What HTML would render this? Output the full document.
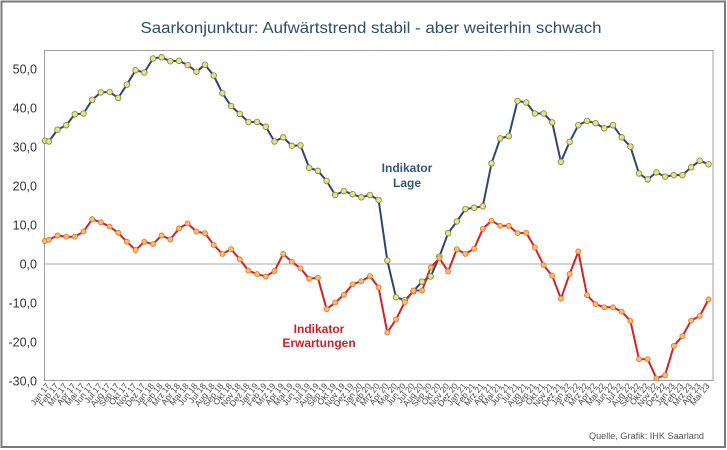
<!DOCTYPE html>
<html>
<head>
<meta charset="utf-8">
<style>
html,body{margin:0;padding:0;background:#fff;}
svg{display:block;}
</style>
</head>
<body>
<svg width="727" height="450" viewBox="0 0 727 450" xmlns="http://www.w3.org/2000/svg" font-family="Liberation Sans, Arial, sans-serif">
<rect x="0" y="0" width="727" height="450" fill="#fff"/>
<rect x="1.5" y="1.5" width="723.5" height="445.5" fill="none" stroke="#7a7a7a" stroke-width="2"/>
<text x="371" y="33" text-anchor="middle" font-size="16" fill="#2f4d6e" textLength="461" lengthAdjust="spacingAndGlyphs">Saarkonjunktur: Aufwärtstrend stabil - aber weiterhin schwach</text>
<rect x="44.5" y="50.5" width="668.5" height="330" fill="none" stroke="#a0a0a0" stroke-width="1"/>
<line x1="44.5" y1="264" x2="713" y2="264" stroke="#a8a8a8" stroke-width="1"/>
<g font-size="12.5" fill="#333" text-anchor="end">
<text x="37" y="73.5">50,0</text>
<text x="37" y="112.5">40,0</text>
<text x="37" y="151.5">30,0</text>
<text x="37" y="190.5">20,0</text>
<text x="37" y="229.5">10,0</text>
<text x="37" y="268.5">0,0</text>
<text x="37" y="307.5">-10,0</text>
<text x="37" y="346.5">-20,0</text>
<text x="37" y="385.5">-30,0</text>
</g>
<polyline fill="none" stroke="#2c4770" stroke-width="2" stroke-linejoin="round" points="45,140.7 48.8,141.5 57.5,129.8 66.2,125.2 74.8,114.2 83.5,113.5 92.2,99.8 100.9,92.4 109.6,92.0 118.2,97.9 126.9,84.6 135.6,70.2 144.3,72.5 153.0,58.5 161.6,57.3 170.3,61.2 179.0,60.8 187.7,65.1 196.4,71.7 205.0,64.7 213.7,75.6 222.4,93.2 231.1,106.1 239.8,113.9 248.4,122.0 257.1,122.0 265.8,126.7 274.5,141.5 283.2,137.3 291.8,145.8 300.5,145.4 309.2,167.7 317.9,170.8 326.6,180.9 335.2,195.0 343.9,191.1 352.6,194.2 361.3,197.3 370.0,195.0 378.6,200.0 387.3,260.5 396.0,297.2 404.7,300.3 413.4,291.3 422.0,281.6 430.7,276.5 439.4,256.6 448.1,233.2 456.8,221.5 465.4,209.0 474.1,207.8 482.8,206.3 491.5,163.4 500.2,138.4 508.8,136.1 517.5,101.0 526.2,102.5 534.9,113.5 543.6,113.5 552.2,122.4 560.9,161.8 569.6,141.9 578.3,125.2 587.0,120.9 595.6,123.2 604.3,128.3 613.0,125.2 621.7,137.3 630.4,146.6 639.0,173.5 647.7,179.4 656.4,172.4 665.1,176.6 673.8,175.1 682.4,175.1 691.1,167.3 699.8,160.7 708.5,164.2"/>
<polyline fill="none" stroke="#d42222" stroke-width="2" stroke-linejoin="round" points="45,241 48.8,239.8 57.5,235.5 66.2,236.7 74.8,236.7 83.5,231.6 92.2,219.2 100.9,222.3 109.6,226.6 118.2,232.8 126.9,241.8 135.6,250.0 144.3,241.8 153.0,244.1 161.6,235.5 170.3,239.4 179.0,228.5 187.7,223.4 196.4,231.6 205.0,233.2 213.7,244.9 222.4,253.9 231.1,249.2 239.8,259.3 248.4,270.6 257.1,274.1 265.8,276.5 274.5,271.0 283.2,253.9 291.8,261.7 300.5,268.3 309.2,278.8 317.9,277.7 326.6,309.2 335.2,302.6 343.9,294.8 352.6,284.3 361.3,281.2 370.0,276.1 378.6,287.4 387.3,332.6 396.0,319.4 404.7,302.2 413.4,290.5 422.0,290.5 430.7,267.5 439.4,258.2 448.1,271.4 456.8,249.2 465.4,253.9 474.1,248.8 482.8,228.9 491.5,220.7 500.2,225.8 508.8,225.8 517.5,233.2 526.2,232.8 534.9,247.6 543.6,265.2 552.2,275.7 560.9,298.7 569.6,274.1 578.3,251.5 587.0,295.2 595.6,304.2 604.3,307.3 613.0,307.3 621.7,311.6 630.4,320.9 639.0,359.2 647.7,359.2 656.4,378.3 665.1,375.2 673.8,345.9 682.4,336.2 691.1,320.6 699.8,315.9 708.5,299.5"/>
<g fill="#e4e48a" stroke="#8c8c48" stroke-width="0.9">
<circle cx="45" cy="140.7" r="2.8"/><circle cx="48.8" cy="141.5" r="2.8"/><circle cx="57.5" cy="129.8" r="2.8"/><circle cx="66.2" cy="125.2" r="2.8"/><circle cx="74.8" cy="114.2" r="2.8"/><circle cx="83.5" cy="113.5" r="2.8"/><circle cx="92.2" cy="99.8" r="2.8"/><circle cx="100.9" cy="92.4" r="2.8"/><circle cx="109.6" cy="92.0" r="2.8"/><circle cx="118.2" cy="97.9" r="2.8"/><circle cx="126.9" cy="84.6" r="2.8"/><circle cx="135.6" cy="70.2" r="2.8"/><circle cx="144.3" cy="72.5" r="2.8"/><circle cx="153.0" cy="58.5" r="2.8"/><circle cx="161.6" cy="57.3" r="2.8"/><circle cx="170.3" cy="61.2" r="2.8"/><circle cx="179.0" cy="60.8" r="2.8"/><circle cx="187.7" cy="65.1" r="2.8"/><circle cx="196.4" cy="71.7" r="2.8"/><circle cx="205.0" cy="64.7" r="2.8"/><circle cx="213.7" cy="75.6" r="2.8"/><circle cx="222.4" cy="93.2" r="2.8"/><circle cx="231.1" cy="106.1" r="2.8"/><circle cx="239.8" cy="113.9" r="2.8"/><circle cx="248.4" cy="122.0" r="2.8"/><circle cx="257.1" cy="122.0" r="2.8"/><circle cx="265.8" cy="126.7" r="2.8"/><circle cx="274.5" cy="141.5" r="2.8"/><circle cx="283.2" cy="137.3" r="2.8"/><circle cx="291.8" cy="145.8" r="2.8"/><circle cx="300.5" cy="145.4" r="2.8"/><circle cx="309.2" cy="167.7" r="2.8"/><circle cx="317.9" cy="170.8" r="2.8"/><circle cx="326.6" cy="180.9" r="2.8"/><circle cx="335.2" cy="195.0" r="2.8"/><circle cx="343.9" cy="191.1" r="2.8"/><circle cx="352.6" cy="194.2" r="2.8"/><circle cx="361.3" cy="197.3" r="2.8"/><circle cx="370.0" cy="195.0" r="2.8"/><circle cx="378.6" cy="200.0" r="2.8"/><circle cx="387.3" cy="260.5" r="2.8"/><circle cx="396.0" cy="297.2" r="2.8"/><circle cx="404.7" cy="300.3" r="2.8"/><circle cx="413.4" cy="291.3" r="2.8"/><circle cx="422.0" cy="281.6" r="2.8"/><circle cx="430.7" cy="276.5" r="2.8"/><circle cx="439.4" cy="256.6" r="2.8"/><circle cx="448.1" cy="233.2" r="2.8"/><circle cx="456.8" cy="221.5" r="2.8"/><circle cx="465.4" cy="209.0" r="2.8"/><circle cx="474.1" cy="207.8" r="2.8"/><circle cx="482.8" cy="206.3" r="2.8"/><circle cx="491.5" cy="163.4" r="2.8"/><circle cx="500.2" cy="138.4" r="2.8"/><circle cx="508.8" cy="136.1" r="2.8"/><circle cx="517.5" cy="101.0" r="2.8"/><circle cx="526.2" cy="102.5" r="2.8"/><circle cx="534.9" cy="113.5" r="2.8"/><circle cx="543.6" cy="113.5" r="2.8"/><circle cx="552.2" cy="122.4" r="2.8"/><circle cx="560.9" cy="161.8" r="2.8"/><circle cx="569.6" cy="141.9" r="2.8"/><circle cx="578.3" cy="125.2" r="2.8"/><circle cx="587.0" cy="120.9" r="2.8"/><circle cx="595.6" cy="123.2" r="2.8"/><circle cx="604.3" cy="128.3" r="2.8"/><circle cx="613.0" cy="125.2" r="2.8"/><circle cx="621.7" cy="137.3" r="2.8"/><circle cx="630.4" cy="146.6" r="2.8"/><circle cx="639.0" cy="173.5" r="2.8"/><circle cx="647.7" cy="179.4" r="2.8"/><circle cx="656.4" cy="172.4" r="2.8"/><circle cx="665.1" cy="176.6" r="2.8"/><circle cx="673.8" cy="175.1" r="2.8"/><circle cx="682.4" cy="175.1" r="2.8"/><circle cx="691.1" cy="167.3" r="2.8"/><circle cx="699.8" cy="160.7" r="2.8"/><circle cx="708.5" cy="164.2" r="2.8"/>
</g>
<g fill="#f2c070" stroke="#e07a30" stroke-width="0.9">
<circle cx="45" cy="241" r="2.5"/><circle cx="48.8" cy="239.8" r="2.5"/><circle cx="57.5" cy="235.5" r="2.5"/><circle cx="66.2" cy="236.7" r="2.5"/><circle cx="74.8" cy="236.7" r="2.5"/><circle cx="83.5" cy="231.6" r="2.5"/><circle cx="92.2" cy="219.2" r="2.5"/><circle cx="100.9" cy="222.3" r="2.5"/><circle cx="109.6" cy="226.6" r="2.5"/><circle cx="118.2" cy="232.8" r="2.5"/><circle cx="126.9" cy="241.8" r="2.5"/><circle cx="135.6" cy="250.0" r="2.5"/><circle cx="144.3" cy="241.8" r="2.5"/><circle cx="153.0" cy="244.1" r="2.5"/><circle cx="161.6" cy="235.5" r="2.5"/><circle cx="170.3" cy="239.4" r="2.5"/><circle cx="179.0" cy="228.5" r="2.5"/><circle cx="187.7" cy="223.4" r="2.5"/><circle cx="196.4" cy="231.6" r="2.5"/><circle cx="205.0" cy="233.2" r="2.5"/><circle cx="213.7" cy="244.9" r="2.5"/><circle cx="222.4" cy="253.9" r="2.5"/><circle cx="231.1" cy="249.2" r="2.5"/><circle cx="239.8" cy="259.3" r="2.5"/><circle cx="248.4" cy="270.6" r="2.5"/><circle cx="257.1" cy="274.1" r="2.5"/><circle cx="265.8" cy="276.5" r="2.5"/><circle cx="274.5" cy="271.0" r="2.5"/><circle cx="283.2" cy="253.9" r="2.5"/><circle cx="291.8" cy="261.7" r="2.5"/><circle cx="300.5" cy="268.3" r="2.5"/><circle cx="309.2" cy="278.8" r="2.5"/><circle cx="317.9" cy="277.7" r="2.5"/><circle cx="326.6" cy="309.2" r="2.5"/><circle cx="335.2" cy="302.6" r="2.5"/><circle cx="343.9" cy="294.8" r="2.5"/><circle cx="352.6" cy="284.3" r="2.5"/><circle cx="361.3" cy="281.2" r="2.5"/><circle cx="370.0" cy="276.1" r="2.5"/><circle cx="378.6" cy="287.4" r="2.5"/><circle cx="387.3" cy="332.6" r="2.5"/><circle cx="396.0" cy="319.4" r="2.5"/><circle cx="404.7" cy="302.2" r="2.5"/><circle cx="413.4" cy="290.5" r="2.5"/><circle cx="422.0" cy="290.5" r="2.5"/><circle cx="430.7" cy="267.5" r="2.5"/><circle cx="439.4" cy="258.2" r="2.5"/><circle cx="448.1" cy="271.4" r="2.5"/><circle cx="456.8" cy="249.2" r="2.5"/><circle cx="465.4" cy="253.9" r="2.5"/><circle cx="474.1" cy="248.8" r="2.5"/><circle cx="482.8" cy="228.9" r="2.5"/><circle cx="491.5" cy="220.7" r="2.5"/><circle cx="500.2" cy="225.8" r="2.5"/><circle cx="508.8" cy="225.8" r="2.5"/><circle cx="517.5" cy="233.2" r="2.5"/><circle cx="526.2" cy="232.8" r="2.5"/><circle cx="534.9" cy="247.6" r="2.5"/><circle cx="543.6" cy="265.2" r="2.5"/><circle cx="552.2" cy="275.7" r="2.5"/><circle cx="560.9" cy="298.7" r="2.5"/><circle cx="569.6" cy="274.1" r="2.5"/><circle cx="578.3" cy="251.5" r="2.5"/><circle cx="587.0" cy="295.2" r="2.5"/><circle cx="595.6" cy="304.2" r="2.5"/><circle cx="604.3" cy="307.3" r="2.5"/><circle cx="613.0" cy="307.3" r="2.5"/><circle cx="621.7" cy="311.6" r="2.5"/><circle cx="630.4" cy="320.9" r="2.5"/><circle cx="639.0" cy="359.2" r="2.5"/><circle cx="647.7" cy="359.2" r="2.5"/><circle cx="656.4" cy="378.3" r="2.5"/><circle cx="665.1" cy="375.2" r="2.5"/><circle cx="673.8" cy="345.9" r="2.5"/><circle cx="682.4" cy="336.2" r="2.5"/><circle cx="691.1" cy="320.6" r="2.5"/><circle cx="699.8" cy="315.9" r="2.5"/><circle cx="708.5" cy="299.5" r="2.5"/>
</g>
<g font-size="12" font-weight="bold" text-anchor="middle">
<text x="407" y="172" fill="#35557e">Indikator</text>
<text x="407" y="187" fill="#35557e">Lage</text>
<text x="319" y="333" fill="#d01f26">Indikator</text>
<text x="319" y="347" fill="#d01f26">Erwartungen</text>
</g>
<g font-size="8.5" fill="#4a4a4a" text-anchor="end">
<text transform="translate(50.3,386) rotate(-52)">Jan 17</text>
<text transform="translate(59.0,386) rotate(-52)">Feb 17</text>
<text transform="translate(67.7,386) rotate(-52)">Mrz 17</text>
<text transform="translate(76.3,386) rotate(-52)">Apr 17</text>
<text transform="translate(85.0,386) rotate(-52)">Mai 17</text>
<text transform="translate(93.7,386) rotate(-52)">Jun 17</text>
<text transform="translate(102.4,386) rotate(-52)">Jul 17</text>
<text transform="translate(111.1,386) rotate(-52)">Aug 17</text>
<text transform="translate(119.7,386) rotate(-52)">Sep 17</text>
<text transform="translate(128.4,386) rotate(-52)">Okt 17</text>
<text transform="translate(137.1,386) rotate(-52)">Nov 17</text>
<text transform="translate(145.8,386) rotate(-52)">Dez 17</text>
<text transform="translate(154.5,386) rotate(-52)">Jan 18</text>
<text transform="translate(163.1,386) rotate(-52)">Feb 18</text>
<text transform="translate(171.8,386) rotate(-52)">Mrz 18</text>
<text transform="translate(180.5,386) rotate(-52)">Apr 18</text>
<text transform="translate(189.2,386) rotate(-52)">Mai 18</text>
<text transform="translate(197.9,386) rotate(-52)">Jun 18</text>
<text transform="translate(206.5,386) rotate(-52)">Jul 18</text>
<text transform="translate(215.2,386) rotate(-52)">Aug 18</text>
<text transform="translate(223.9,386) rotate(-52)">Sep 18</text>
<text transform="translate(232.6,386) rotate(-52)">Okt 18</text>
<text transform="translate(241.3,386) rotate(-52)">Nov 18</text>
<text transform="translate(249.9,386) rotate(-52)">Dez 18</text>
<text transform="translate(258.6,386) rotate(-52)">Jan 19</text>
<text transform="translate(267.3,386) rotate(-52)">Feb 19</text>
<text transform="translate(276.0,386) rotate(-52)">Mrz 19</text>
<text transform="translate(284.7,386) rotate(-52)">Apr 19</text>
<text transform="translate(293.3,386) rotate(-52)">Mai 19</text>
<text transform="translate(302.0,386) rotate(-52)">Jun 19</text>
<text transform="translate(310.7,386) rotate(-52)">Jul 19</text>
<text transform="translate(319.4,386) rotate(-52)">Aug 19</text>
<text transform="translate(328.1,386) rotate(-52)">Sep 19</text>
<text transform="translate(336.7,386) rotate(-52)">Okt 19</text>
<text transform="translate(345.4,386) rotate(-52)">Nov 19</text>
<text transform="translate(354.1,386) rotate(-52)">Dez 19</text>
<text transform="translate(362.8,386) rotate(-52)">Jan 20</text>
<text transform="translate(371.5,386) rotate(-52)">Feb 20</text>
<text transform="translate(380.1,386) rotate(-52)">Mrz 20</text>
<text transform="translate(388.8,386) rotate(-52)">Apr 20</text>
<text transform="translate(397.5,386) rotate(-52)">Mai 20</text>
<text transform="translate(406.2,386) rotate(-52)">Jun 20</text>
<text transform="translate(414.9,386) rotate(-52)">Jul 20</text>
<text transform="translate(423.5,386) rotate(-52)">Aug 20</text>
<text transform="translate(432.2,386) rotate(-52)">Sep 20</text>
<text transform="translate(440.9,386) rotate(-52)">Okt 20</text>
<text transform="translate(449.6,386) rotate(-52)">Nov 20</text>
<text transform="translate(458.3,386) rotate(-52)">Dez 20</text>
<text transform="translate(466.9,386) rotate(-52)">Jan 21</text>
<text transform="translate(475.6,386) rotate(-52)">Feb 21</text>
<text transform="translate(484.3,386) rotate(-52)">Mrz 21</text>
<text transform="translate(493.0,386) rotate(-52)">Apr 21</text>
<text transform="translate(501.7,386) rotate(-52)">Mai 21</text>
<text transform="translate(510.3,386) rotate(-52)">Jun 21</text>
<text transform="translate(519.0,386) rotate(-52)">Jul 21</text>
<text transform="translate(527.7,386) rotate(-52)">Aug 21</text>
<text transform="translate(536.4,386) rotate(-52)">Sep 21</text>
<text transform="translate(545.1,386) rotate(-52)">Okt 21</text>
<text transform="translate(553.7,386) rotate(-52)">Nov 21</text>
<text transform="translate(562.4,386) rotate(-52)">Dez 21</text>
<text transform="translate(571.1,386) rotate(-52)">Jan 22</text>
<text transform="translate(579.8,386) rotate(-52)">Feb 22</text>
<text transform="translate(588.5,386) rotate(-52)">Mrz 22</text>
<text transform="translate(597.1,386) rotate(-52)">Apr 22</text>
<text transform="translate(605.8,386) rotate(-52)">Mai 22</text>
<text transform="translate(614.5,386) rotate(-52)">Jun 22</text>
<text transform="translate(623.2,386) rotate(-52)">Jul 22</text>
<text transform="translate(631.9,386) rotate(-52)">Aug 22</text>
<text transform="translate(640.5,386) rotate(-52)">Sep 22</text>
<text transform="translate(649.2,386) rotate(-52)">Okt 22</text>
<text transform="translate(657.9,386) rotate(-52)">Nov 22</text>
<text transform="translate(666.6,386) rotate(-52)">Dez 22</text>
<text transform="translate(675.3,386) rotate(-52)">Jan 23</text>
<text transform="translate(683.9,386) rotate(-52)">Feb 23</text>
<text transform="translate(692.6,386) rotate(-52)">Mrz 23</text>
<text transform="translate(701.3,386) rotate(-52)">Apr 23</text>
<text transform="translate(710.0,386) rotate(-52)">Mai 23</text>
</g>
<text x="589" y="439" font-size="9" fill="#555" textLength="115" lengthAdjust="spacingAndGlyphs">Quelle, Grafik: IHK Saarland</text>
</svg>
</body>
</html>
